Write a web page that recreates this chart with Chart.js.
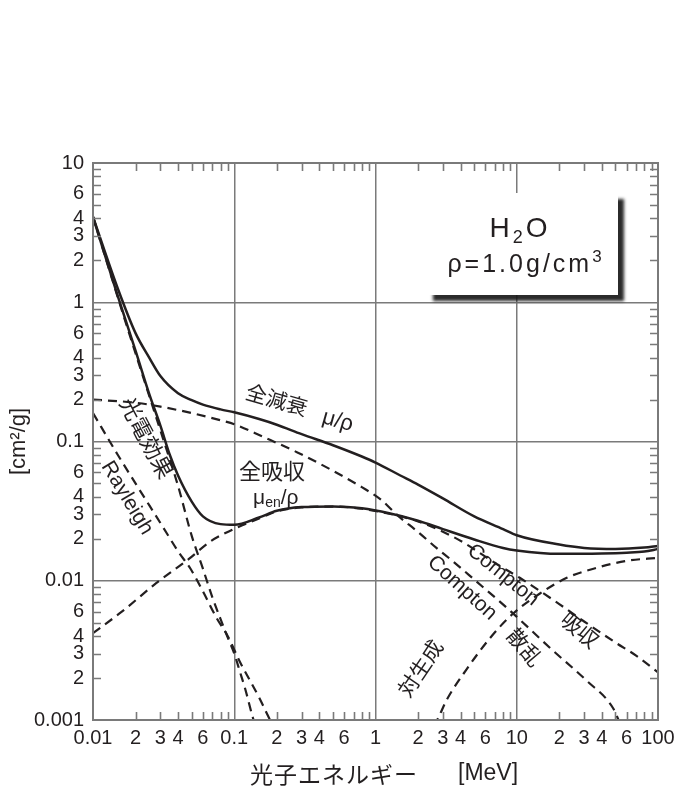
<!DOCTYPE html>
<html>
<head>
<meta charset="utf-8">
<script src="https://cdn.jsdelivr.net/npm/chart.js@4.4.0/dist/chart.umd.min.js"></script>
<style>
html, body { margin: 0; padding: 0; background: #fff; }
</style>
</head>
<body>
<canvas id="graficoAtenuacion" width="686" height="787"></canvas>
<script>
// Datos: energia [MeV] y coeficiente [cm2/g]
const eTotal = [0.01, 0.015, 0.02, 0.025, 0.03, 0.04, 0.05, 0.06, 0.08, 0.1, 0.15, 0.2, 0.3, 0.5, 0.8, 1, 1.5, 2, 3, 5, 8, 10, 20, 30, 50, 80, 100];
const muTotal = [4.1, 1.25, 0.6, 0.4, 0.295, 0.222, 0.198, 0.184, 0.17, 0.162, 0.145, 0.132, 0.113, 0.094, 0.078, 0.0706, 0.057, 0.049, 0.039, 0.029, 0.0235, 0.0212, 0.0182, 0.0172, 0.0169, 0.0173, 0.0178];

const eAbsTotal = [0.01, 0.015, 0.02, 0.025, 0.03, 0.035, 0.04, 0.05, 0.06, 0.08, 0.1, 0.15, 0.2, 0.3, 0.5, 0.8, 1.25, 2, 3, 5, 8, 10, 20, 40, 60, 80, 100];
const muAbsTotal = [4.1, 1.1, 0.45, 0.22, 0.13, 0.08, 0.057, 0.037, 0.029, 0.0255, 0.0252, 0.0285, 0.0318, 0.0338, 0.0342, 0.0331, 0.0305, 0.027, 0.0235, 0.0198, 0.0172, 0.0165, 0.0156, 0.0157, 0.0159, 0.0162, 0.0169];

const eFoto = [0.01, 0.015, 0.02, 0.03, 0.04, 0.05, 0.06, 0.07, 0.08, 0.09, 0.1, 0.11, 0.12, 0.135, 0.15];
const muFoto = [4.1, 1.08, 0.43, 0.12, 0.048, 0.021, 0.0122, 0.0076, 0.0053, 0.0039, 0.003, 0.0022, 0.00165, 0.00105, 0.00075];

const eRayleigh = [0.01, 0.015, 0.02, 0.03, 0.04, 0.05, 0.06, 0.075, 0.09, 0.11, 0.13, 0.15, 0.175, 0.2];
const muRayleigh = [0.16, 0.08, 0.05, 0.026, 0.0163, 0.0118, 0.0084, 0.0054, 0.004, 0.0026, 0.0019, 0.00145, 0.00105, 0.0008];

const eComptonDisp = [0.01, 0.02, 0.03, 0.05, 0.08, 0.1, 0.16, 0.28, 0.48, 0.8, 1.1, 1.42, 2, 2.7, 3.5, 5, 8.5, 18, 31, 48, 53];
const muComptonDisp = [0.2, 0.19, 0.178, 0.16, 0.142, 0.133, 0.108, 0.0835, 0.063, 0.047, 0.038, 0.0297, 0.0224, 0.0172, 0.0139, 0.0102, 0.0064, 0.00316, 0.00193, 0.00122, 0.00098];

const eComptonAbs = [0.01, 0.016, 0.028, 0.048, 0.067, 0.093, 0.15, 0.2, 0.3, 0.5, 0.8, 1.25, 2, 3, 4.2, 7.2, 10.5, 20, 30, 50, 70, 100];
const muComptonAbs = [0.0042, 0.006, 0.0096, 0.0144, 0.019, 0.0228, 0.028, 0.0315, 0.0336, 0.0341, 0.0329, 0.0303, 0.0267, 0.0225, 0.0188, 0.0132, 0.0105, 0.0068, 0.0051, 0.0036, 0.0029, 0.0022];

const ePares = [2.6, 2.8, 3.2, 4.4, 6.5, 9.4, 14.6, 22.6, 37, 60, 100];
const muPares = [0.0009, 0.00105, 0.0014, 0.0023, 0.0039, 0.0058, 0.0081, 0.0105, 0.0124, 0.0139, 0.0146];

// Marcas de los ejes
const decadasX = [0.01, 0.1, 1, 10, 100];
const etiquetasDecadasX = ['0.01', '0.1', '1', '10', '100'];
const decadasY = [0.001, 0.01, 0.1, 1, 10];
const etiquetasDecadasY = ['0.001', '0.01', '0.1', '1', '10'];
const menores = [2, 3, 4, 5, 6, 7, 8, 9];
const menoresConEtiqueta = [2, 3, 4, 6];

const NEGRO = '#231f20';
const GRIS = '#7a7a7a';
const LATIN = '"Liberation Sans", Arial, sans-serif';
const CJK = '"Noto Sans CJK JP", sans-serif';

function puntos(es, vs) {
    return es.map((e, i) => ({ x: e, y: vs[i] }));
}

function marcas(decadas) {
    const lista = [];
    decadas.forEach((d, i) => {
        lista.push(d);
        if (i < decadas.length - 1) menores.forEach(m => lista.push(+(m * d).toPrecision(6)));
    });
    return lista;
}

function mantisa(v) {
    const ex = Math.floor(Math.log10(v) + 1e-9);
    return Math.round(v / Math.pow(10, ex));
}

function esDecada(v) {
    return mantisa(v) === 1;
}

function etiqueta(v, decadas, etiquetas) {
    const m = mantisa(v);
    if (m === 1) {
        const i = decadas.findIndex(d => Math.abs(d - v) / d < 1e-6);
        return i >= 0 ? etiquetas[i] : '';
    }
    return menoresConEtiqueta.includes(m) ? String(m) : '';
}

function serie(label, es, vs, discontinua) {
    return {
        label: label,
        data: puntos(es, vs),
        borderColor: NEGRO,
        borderWidth: discontinua ? 2.2 : 2.5,
        borderDash: discontinua ? [9, 6] : [],
        pointRadius: 0,
        fill: false,
        cubicInterpolationMode: 'monotone'
    };
}

// Texto compuesto (subindices / superindices), centrado en (x, y)
function dibujarTramos(ctx, tramos, x, y, ang) {
    ctx.save();
    ctx.translate(x, y);
    ctx.rotate(ang * Math.PI / 180);
    ctx.textBaseline = 'middle';
    ctx.textAlign = 'left';
    let total = 0;
    tramos.forEach(t => { ctx.font = t.f; total += ctx.measureText(t.t).width; });
    let cx = -total / 2;
    tramos.forEach(t => {
        ctx.font = t.f;
        ctx.fillText(t.t, cx, t.dy || 0);
        cx += ctx.measureText(t.t).width;
    });
    ctx.restore();
}

const anotaciones = [
    { e: 0.2, v: 0.2, ang: 16, tramos: [{ t: '全減衰', f: '21px ' + CJK }] },
    { e: 0.54, v: 0.14, ang: 16, tramos: [{ t: 'μ/ρ', f: '22px ' + LATIN }] },
    { e: 0.185, v: 0.0614, ang: 0, tramos: [{ t: '全吸収', f: '22px ' + CJK }] },
    { e: 0.197, v: 0.0393, ang: 0, tramos: [{ t: 'μ', f: '21px ' + LATIN }, { t: 'en', f: '14px ' + LATIN, dy: 5 }, { t: '/ρ', f: '21px ' + LATIN }] },
    { e: 0.0241, v: 0.106, ang: 62, tramos: [{ t: '光電効果', f: '22px ' + CJK }] },
    { e: 0.0174, v: 0.0393, ang: 59, tramos: [{ t: 'Rayleigh', f: '21px ' + LATIN }] },
    { e: 8.0, v: 0.011, ang: 39, tramos: [{ t: 'Compton', f: '21px ' + LATIN }] },
    { e: 28, v: 0.00443, ang: 40, tramos: [{ t: '吸収', f: '21px ' + CJK }] },
    { e: 4.1, v: 0.00887, ang: 42, tramos: [{ t: 'Compton', f: '21px ' + LATIN }] },
    { e: 11.4, v: 0.00334, ang: 50, tramos: [{ t: '散乱', f: '21px ' + CJK }] },
    { e: 2.07, v: 0.00236, ang: -56, tramos: [{ t: '対生成', f: '21px ' + CJK }] }
];

const pluginMarco = {
    id: 'marco',
    afterDatasetsDraw(chart) {
        const ctx = chart.ctx;
        const a = chart.chartArea;
        const sx = chart.scales.x;
        const sy = chart.scales.y;

        // marcas interiores en los cuatro lados
        ctx.save();
        ctx.strokeStyle = GRIS;
        ctx.lineWidth = 1.6;
        ctx.beginPath();
        marcas(decadasX).filter(v => !esDecada(v)).forEach(v => {
            const px = Math.round(sx.getPixelForValue(v)) + 0.5;
            ctx.moveTo(px, a.bottom); ctx.lineTo(px, a.bottom - 8);
            ctx.moveTo(px, a.top); ctx.lineTo(px, a.top + 8);
        });
        marcas(decadasY).filter(v => !esDecada(v)).forEach(v => {
            const py = Math.round(sy.getPixelForValue(v)) + 0.5;
            ctx.moveTo(a.left, py); ctx.lineTo(a.left + 8, py);
            ctx.moveTo(a.right, py); ctx.lineTo(a.right - 8, py);
        });
        ctx.stroke();
        ctx.lineWidth = 2;
        ctx.strokeRect(a.left, a.top, a.right - a.left, a.bottom - a.top);
        ctx.restore();

        // etiquetas de las curvas
        ctx.save();
        ctx.fillStyle = NEGRO;
        anotaciones.forEach(n => {
            dibujarTramos(ctx, n.tramos, sx.getPixelForValue(n.e), sy.getPixelForValue(n.v), n.ang);
        });
        ctx.restore();

        // titulo del eje x
        ctx.save();
        ctx.fillStyle = NEGRO;
        ctx.textBaseline = 'middle';
        ctx.textAlign = 'left';
        ctx.font = '23px ' + CJK;
        ctx.letterSpacing = '1px';
        ctx.fillText('光子エネルギー', a.left + 157, a.bottom + 54);
        ctx.font = '23px ' + LATIN;
        ctx.letterSpacing = '0px';
        ctx.fillText('[MeV]', a.left + 365, a.bottom + 54);
        ctx.restore();

        // recuadro H2O con sombra
        const bx = a.right - 231, by = a.top + 30, bw = 191, bh = 102;
        ctx.save();
        ctx.shadowColor = 'rgba(20,20,20,0.9)';
        ctx.shadowBlur = 3;
        ctx.shadowOffsetX = 6;
        ctx.shadowOffsetY = 6;
        ctx.fillStyle = '#ffffff';
        ctx.fillRect(bx, by, bw, bh);
        ctx.restore();
        ctx.save();
        ctx.fillStyle = NEGRO;
        ctx.textBaseline = 'alphabetic';
        ctx.letterSpacing = '3px';
        const cx = bx + 93;
        const l1 = [{ t: 'H', f: '28px ' + LATIN }, { t: '2', f: '18px ' + LATIN, dy: 6 }, { t: 'O', f: '28px ' + LATIN }];
        const l2 = [{ t: 'ρ=1.0g/cm', f: '25px ' + LATIN }, { t: '3', f: '17px ' + LATIN, dy: -10 }];
        [[l1, by + 44], [l2, by + 79]].forEach(([tr, yb], k) => {
            let w = 0;
            tr.forEach(t => { ctx.font = t.f; w += ctx.measureText(t.t).width; });
            let x0 = cx - w / 2 + (k === 1 ? 6 : 0);
            tr.forEach(t => {
                ctx.font = t.f;
                ctx.fillText(t.t, x0, yb + (t.dy || 0));
                x0 += ctx.measureText(t.t).width;
            });
        });
        ctx.restore();
    }
};

const ctx = document.getElementById('graficoAtenuacion').getContext('2d');
const graficoAtenuacion = new Chart(ctx, {
    type: 'line',
    data: {
        datasets: [
            serie('全減衰 μ/ρ', eTotal, muTotal, false),
            serie('全吸収 μen/ρ', eAbsTotal, muAbsTotal, false),
            serie('光電効果', eFoto, muFoto, true),
            serie('Rayleigh', eRayleigh, muRayleigh, true),
            serie('Compton 散乱', eComptonDisp, muComptonDisp, true),
            serie('Compton 吸収', eComptonAbs, muComptonAbs, true),
            serie('対生成', ePares, muPares, true)
        ]
    },
    options: {
        responsive: false,
        animation: false,
        events: [],
        layout: { padding: { top: 163, right: 28, left: 0, bottom: 0 } },
        plugins: {
            legend: { display: false },
            tooltip: { enabled: false }
        },
        scales: {
            x: {
                type: 'logarithmic',
                min: 0.01,
                max: 100,
                afterBuildTicks: scale => { scale.ticks = marcas(decadasX).map(v => ({ value: v })); },
                afterFit: scale => { scale.height = 67; },
                grid: {
                    drawTicks: false,
                    lineWidth: 1.5,
                    color: c => (c.tick && esDecada(c.tick.value)) ? GRIS : 'rgba(0,0,0,0)'
                },
                border: { display: true, color: GRIS, width: 2 },
                ticks: {
                    autoSkip: false,
                    maxRotation: 0,
                    padding: 6,
                    color: NEGRO,
                    font: { family: LATIN, size: 20 },
                    callback: v => etiqueta(v, decadasX, etiquetasDecadasX)
                }
            },
            y: {
                type: 'logarithmic',
                min: 0.001,
                max: 10,
                afterBuildTicks: scale => { scale.ticks = marcas(decadasY).map(v => ({ value: v })); },
                afterFit: scale => { scale.width = 93; },
                grid: {
                    drawTicks: false,
                    lineWidth: 1.5,
                    color: c => (c.tick && esDecada(c.tick.value)) ? GRIS : 'rgba(0,0,0,0)'
                },
                border: { display: true, color: GRIS, width: 2 },
                ticks: {
                    autoSkip: false,
                    padding: 9,
                    color: NEGRO,
                    font: { family: LATIN, size: 20 },
                    callback: v => etiqueta(v, decadasY, etiquetasDecadasY)
                },
                title: {
                    display: true,
                    text: '[cm²/g]',
                    color: NEGRO,
                    font: { family: LATIN, size: 22 },
                    padding: { top: 6, bottom: 0 }
                }
            }
        }
    },
    plugins: [pluginMarco]
});
</script>
</body>
</html>
